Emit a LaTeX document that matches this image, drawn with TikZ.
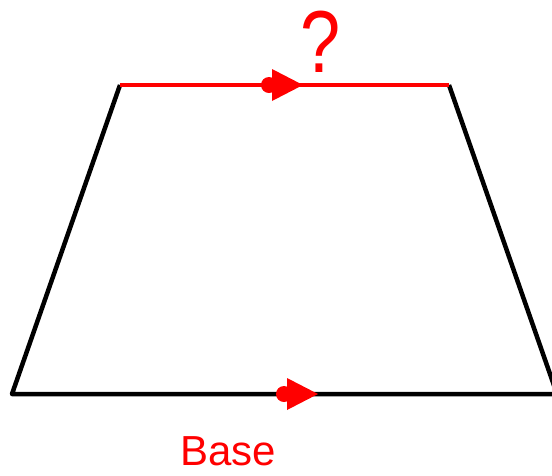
\documentclass[tikz,border=0pt]{standalone}
\usepackage{fontspec}
\setmainfont{Liberation Sans}
\begin{document}
\begin{tikzpicture}[x=1pt,y=-1pt,
  edge/.style={line width=4.5pt,line join=round},
  redtxt/.style={text=red,inner sep=0pt},
  pics/midarrow/.style={code={
    \fill[red] (-3,0) circle (8);
    \fill[red] (0,-16) -- (31,0) -- (0,16) -- cycle;
  }}]
\useasboundingbox (0,0) rectangle (552,475);
\begin{scope}
\clip (0,0) rectangle (552,475);
\coordinate (bl) at (12,394);
\coordinate (tl) at (120,85);
\coordinate (tr) at (449,85);
\coordinate (br) at (557,394);
\draw[edge,black] (tl) -- (bl) -- (br) -- (tr);
\draw[edge,red] (tl) -- (tr);
\pic at (272,85) {midarrow};
\pic at (287,394) {midarrow};
\end{scope}
\node[redtxt,anchor=base] (q) at (321,72) {\fontsize{88}{88}\selectfont\scalebox{0.82}[1]{?}};
\node[redtxt,anchor=base] (base) at (228,465) {\fontsize{42}{42}\selectfont Base};
\end{tikzpicture}
\end{document}
